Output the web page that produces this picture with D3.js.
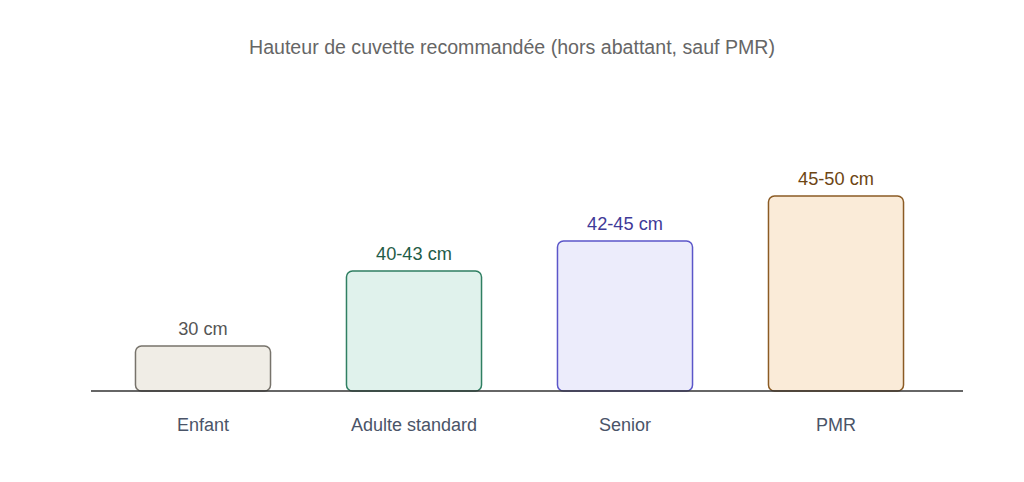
<!DOCTYPE html>
<html>
<head>
<meta charset="utf-8">
<script src="https://cdn.jsdelivr.net/npm/d3@7"></script>
<style>
  body { margin: 0; background: #fff; }
  text { font-family: "Liberation Sans", Arial, sans-serif; }
</style>
</head>
<body>
<div id="chart"></div>
<script>
// data
var categories = ["Enfant", "Adulte standard", "Senior", "PMR"];
var valueLabels = ["30 cm", "40-43 cm", "42-45 cm", "45-50 cm"];
// relative visual height of each bar (as drawn in the reference)
var levels = [1.5, 4, 5, 6.5];
var fills = ["#f0ede6", "#e0f2ec", "#ececfb", "#faebd8"];
var strokes = ["#77736b", "#2f7f62", "#5b56c9", "#8b5b24"];
var labelColors = ["#555555", "#1f5c47", "#3f3a98", "#6d4513"];

var width = 1024, height = 482;
var baseY = 391;

var svg = d3.select("#chart")
  .append("svg")
    .attr("width", width)
    .attr("height", height);

var x = d3.scaleBand()
  .domain(categories)
  .range([97.5, 941.5])
  .paddingInner(0.36)
  .paddingOuter(0.18);

var y = d3.scaleLinear()
  .domain([0, 6.5])
  .range([baseY, 196]);

// title
svg.append("text")
  .attr("x", 512)
  .attr("y", 54)
  .attr("text-anchor", "middle")
  .attr("font-size", 19.6)
  .attr("fill", "#666666")
  .text("Hauteur de cuvette recommandée (hors abattant, sauf PMR)");

// bars
svg.selectAll(".bar")
  .data(categories)
  .enter().append("rect")
    .attr("class", "bar")
    .attr("x", d => x(d))
    .attr("y", (d, i) => y(levels[i]))
    .attr("width", x.bandwidth())
    .attr("height", (d, i) => baseY - y(levels[i]))
    .attr("rx", 6)
    .attr("fill", (d, i) => fills[i])
    .attr("stroke", (d, i) => strokes[i])
    .attr("stroke-width", 1.5);

// baseline
svg.append("line")
  .attr("x1", 91)
  .attr("x2", 963)
  .attr("y1", baseY)
  .attr("y2", baseY)
  .attr("stroke", "#333333")
  .attr("stroke-width", 1.3);

// value labels
svg.selectAll(".val")
  .data(categories)
  .enter().append("text")
    .attr("class", "val")
    .attr("x", d => x(d) + x.bandwidth() / 2)
    .attr("y", (d, i) => y(levels[i]) - 11)
    .attr("text-anchor", "middle")
    .attr("font-size", 18.2)
    .attr("fill", (d, i) => labelColors[i])
    .text((d, i) => valueLabels[i]);

// category labels
svg.selectAll(".cat")
  .data(categories)
  .enter().append("text")
    .attr("class", "cat")
    .attr("x", d => x(d) + x.bandwidth() / 2)
    .attr("y", 431)
    .attr("text-anchor", "middle")
    .attr("font-size", 18)
    .attr("fill", "#4a5468")
    .text(d => d);
</script>
</body>
</html>
